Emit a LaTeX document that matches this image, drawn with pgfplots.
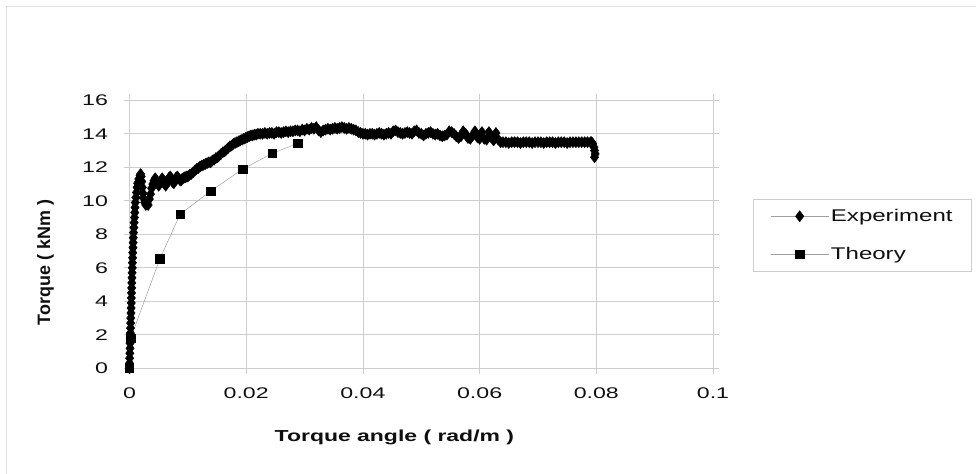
\documentclass[border=0pt]{standalone}
\usepackage{pgfplots}
\pgfplotsset{compat=1.18}
\usepackage{fontspec}
\setmainfont{Liberation Sans}
\newfontfamily\tickfont[FakeStretch=1.5]{Liberation Sans}
\newfontfamily\labfont[FakeStretch=1.44]{Liberation Sans}
\newfontfamily\legfont[FakeStretch=1.42]{Liberation Sans}
\newfontfamily\ylabfont{Liberation Sans}
\definecolor{txt}{RGB}{15,15,15}
\definecolor{gridc}{RGB}{205,205,205}
\definecolor{linec}{RGB}{160,160,160}

\pgfplotstableread{
x y
0 0
0 0.3
0.00003 0.6
0.00006 0.9
0.0001 1.2
0.0001 1.5
0.00013 1.8
0.00015 2.1
0.00018 2.4
0.0002 2.7
0.00022 3.0
0.00025 3.3
0.00027 3.6
0.0003 3.9
0.00032 4.2
0.00035 4.5
0.00037 4.8
0.0004 5.1
0.00042 5.4
0.00045 5.7
0.00048 6.0
0.0005 6.3
0.00053 6.6
0.00056 6.9
0.0006 7.2
0.00063 7.5
0.00066 7.8
0.0007 8.1
0.00075 8.4
0.0008 8.7
0.00085 9.0
0.0009 9.3
0.00095 9.6
0.001 9.9
0.0011 10.2
0.0012 10.5
0.0013 10.8
0.0014 11.05
0.0016 11.3
0.0018 11.5
0.0019 11.6
0.0020 11.45
0.0021 11.15
0.0022 10.8
0.0023 10.45
0.0024 10.15
0.0026 9.9
0.0028 9.75
0.0030 9.9
0.0032 9.75
0.0034 10.1
0.0036 10.4
0.0038 10.75
0.0040 11.0
0.0042 11.2
0.0044 11.35
0.0046 11.25
0.0048 11.05
0.0050 10.9
0.0052 11.0
0.0054 11.2
0.0056 11.35
0.0058 11.2
0.0060 11.0
0.0062 10.9
0.0064 11.05
0.0066 11.25
0.0068 11.4
0.0070 11.45
0.0072 11.3
0.0074 11.1
0.0076 11.05
0.0078 11.25
0.0080 11.4
0.0082 11.45
0.0084 11.35
0.0086 11.25
0.0088 11.2
0.0090 11.3
0.0092 11.35
0.0094 11.4
0.0096 11.4
0.0098 11.45
0.0100 11.45
0.0103 11.55
0.0106 11.6
0.0109 11.7
0.0112 11.8
0.0115 11.9
0.0118 11.95
0.0121 12.05
0.0124 12.1
0.0127 12.15
0.0130 12.2
0.0133 12.25
0.0136 12.3
0.0139 12.3
0.0142 12.4
0.0145 12.45
0.0148 12.55
0.0151 12.6
0.0154 12.7
0.0157 12.8
0.0160 12.9
0.0163 12.95
0.0166 13.05
0.0169 13.15
0.0172 13.25
0.0175 13.3
0.0178 13.4
0.0181 13.45
0.0184 13.5
0.0187 13.55
0.0190 13.6
0.0193 13.65
0.0196 13.7
0.0199 13.75
0.0202 13.8
0.0205 13.85
0.0208 13.9
0.0211 13.9
0.0214 13.95
0.0217 13.95
0.0220 14.0
0.0224 14.0
0.0228 14.0
0.0232 14.05
0.0236 14.0
0.0240 14.05
0.0244 14.05
0.0248 14.0
0.0252 14.1
0.0256 14.1
0.0260 14.05
0.0264 14.1
0.0268 14.15
0.0272 14.1
0.0276 14.15
0.0280 14.15
0.0284 14.2
0.0288 14.2
0.0292 14.15
0.0296 14.25
0.0300 14.2
0.0304 14.3
0.0308 14.25
0.0312 14.35
0.0316 14.3
0.0320 14.4
0.0324 14.2
0.0328 14.1
0.0332 14.2
0.0336 14.25
0.0340 14.3
0.0344 14.25
0.0348 14.3
0.0352 14.35
0.0356 14.3
0.0360 14.35
0.0364 14.4
0.0368 14.35
0.0372 14.3
0.0376 14.35
0.0380 14.3
0.0384 14.25
0.0388 14.2
0.0392 14.1
0.0396 14.05
0.0400 14.0
0.0404 14.0
0.0408 13.95
0.0412 14.0
0.0416 14.0
0.0420 13.95
0.0424 14.0
0.0428 14.05
0.0432 14.0
0.0436 13.95
0.0440 14.0
0.0444 14.05
0.0448 14.0
0.0452 14.15
0.0456 14.2
0.0460 14.1
0.0464 14.05
0.0468 14.0
0.0472 14.05
0.0476 14.1
0.0480 14.05
0.0484 14.0
0.0488 14.15
0.0492 14.2
0.0496 14.05
0.0500 14.0
0.0504 13.9
0.0508 14.0
0.0512 14.05
0.0516 14.1
0.0520 14.0
0.0524 13.95
0.0528 14.0
0.0532 13.9
0.0536 13.85
0.0540 13.9
0.0544 13.95
0.0548 14.15
0.0552 14.1
0.0556 14.0
0.0560 13.85
0.0564 13.75
0.0568 13.85
0.0572 14.15
0.0576 14.0
0.0580 13.75
0.0584 13.7
0.0588 13.9
0.0592 14.15
0.0596 13.8
0.0600 13.7
0.0604 14.1
0.0608 13.7
0.0612 13.65
0.0616 14.1
0.0620 13.8
0.0624 13.6
0.0628 14.05
0.0632 13.65
0.0636 13.5
0.0640 13.5
0.0645 13.5
0.0650 13.45
0.0655 13.5
0.0660 13.5
0.0665 13.5
0.0670 13.45
0.0675 13.5
0.0680 13.5
0.0685 13.5
0.0690 13.45
0.0695 13.5
0.0700 13.5
0.0705 13.5
0.0710 13.45
0.0715 13.5
0.0720 13.5
0.0725 13.5
0.0730 13.45
0.0735 13.5
0.0740 13.5
0.0745 13.5
0.0750 13.45
0.0755 13.5
0.0760 13.5
0.0765 13.5
0.0770 13.5
0.0775 13.5
0.0780 13.5
0.0785 13.5
0.0790 13.5
0.0792 13.5
0.0794 13.4
0.0796 13.2
0.0797 13.0
0.0798 12.8
0.0797 12.6
}\expdata

\pgfplotstableread{
x y
0 0
0.0002 1.8
0.0052 6.53
0.00866 9.19
0.0139 10.58
0.0194 11.9
0.0245 12.83
0.0288 13.43
}\theodata

\begin{document}
\begin{tikzpicture}
\path[use as bounding box] (0bp,0bp) rectangle (976bp,474bp);
\draw[gray!25, line width=1.5bp] (6.5bp,0bp) -- (6.5bp,467.5bp) -- (976bp,467.5bp);
\begin{axis}[
  at={(129.5bp,105.7bp)}, anchor=south west,
  width=583.5bp, height=268bp, scale only axis,
  xmin=0, xmax=0.1, ymin=0, ymax=16,
  xtick={0,0.02,0.04,0.06,0.08,0.1},
  xticklabels={0,0.02,0.04,0.06,0.08,0.1},
  ytick={0,2,4,6,8,10,12,14,16},
  yticklabels={0,2,4,6,8,10,12,14,16},
  grid=major, grid style={gridc, line width=0.8bp},
  axis line style={gridc, line width=0.8bp},
  tick style={gridc, line width=0.8bp},
  tick align=outside, major tick length=6bp,
  ticklabel style={font=\tickfont\fontsize{15.5}{15.5}\selectfont, text=txt},
  xticklabel style={yshift=-10bp},
  yticklabel style={xshift=-12bp},
  xlabel={Torque angle ( rad/m )},
  ylabel={Torque ( kNm )},
  xlabel style={at={(axis description cs:0.454,-0.257)}, anchor=center,
     font=\labfont\bfseries\fontsize{16}{16}\selectfont, text=txt},
  ylabel style={at={(axis description cs:-0.144,0.395)}, anchor=center, rotate=0,
     font=\ylabfont\bfseries\fontsize{18}{18}\selectfont, text=txt},
  legend style={at={(axis description cs:1.0686,0.6317)}, anchor=north west,
     draw=gridc, line width=0.8bp, inner xsep=17bp, inner ysep=8bp,
     row sep=20bp, font=\legfont\fontsize{17}{17}\selectfont, text=txt,
     nodes={inner sep=2bp}},
  legend cell align=left,
  reverse legend,
  legend image code/.code={\draw[mark repeat=2,mark phase=2,#1] plot coordinates {(0bp,0bp) (29bp,0bp) (58bp,0bp)};},
]
\addplot[linec, line width=0.5bp, mark=square*, mark size=4.2bp,
  mark options={black, fill=black, draw=black}] table[x=x,y=y] {\theodata};
\addlegendentry{Theory}
\addplot[linec, line width=0.5bp, mark=diamond*, mark size=5.5bp,
  mark options={black, fill=black, draw=black}] table[x=x,y=y] {\expdata};
\addlegendentry{Experiment}
\end{axis}
\end{tikzpicture}
\end{document}
